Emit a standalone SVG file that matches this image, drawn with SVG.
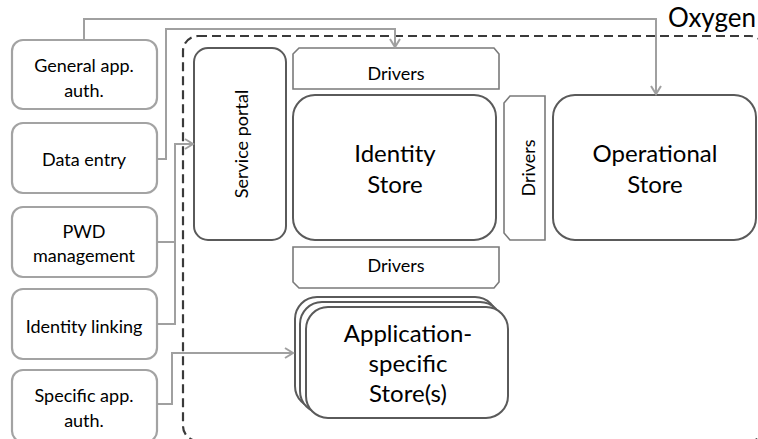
<svg xmlns="http://www.w3.org/2000/svg" width="758" height="439" viewBox="0 0 758 439">
  <style>
    text { font-family: Lato, "Liberation Sans", sans-serif; fill: #000; }
    .side { fill: #fff; stroke: #a3a3a3; stroke-width: 2.2; }
    .core { fill: #fff; stroke: #5a5a5a; stroke-width: 2; }
    .drv { fill: #fff; stroke: #7a7a7a; stroke-width: 1.6; }
    .sm { font-size: 18px; text-anchor: middle; }
    .lg { font-size: 24px; text-anchor: middle; }
    .wire { fill: none; stroke: #a0a0a0; stroke-width: 2; }
    .zone { fill: none; stroke: #3a3a3a; stroke-width: 2.2; stroke-dasharray: 9 5; }
  </style>
  <defs>
    <marker id="chev" markerUnits="userSpaceOnUse" markerWidth="14" markerHeight="14" viewBox="-10 -7 12 14" refX="0" refY="0" orient="auto">
      <path d="M-8,-5 L0,0 L-8,5" fill="none" stroke="#a0a0a0" stroke-width="2"/>
    </marker>
  </defs>
  <rect width="758" height="439" fill="#fff"/>

  <!-- Oxygen boundary -->
  <g id="oxygen">
    <rect class="zone" x="183" y="36" width="582" height="405" rx="15"/>
    <text x="712" y="27" font-size="26" text-anchor="middle">Oxygen</text>
  </g>

  <!-- client functions on the left -->
  <g id="general-auth">
    <rect class="side" x="12" y="40" width="145" height="69" rx="11"/>
    <text class="sm" x="84" y="72">General app.</text>
    <text class="sm" x="84" y="97">auth.</text>
  </g>
  <g id="data-entry">
    <rect class="side" x="12" y="123" width="145" height="70" rx="11"/>
    <text class="sm" x="84" y="166">Data entry</text>
  </g>
  <g id="pwd-management">
    <rect class="side" x="12" y="207" width="145" height="70" rx="11"/>
    <text class="sm" x="84" y="238">PWD</text>
    <text class="sm" x="84" y="262">management</text>
  </g>
  <g id="identity-linking">
    <rect class="side" x="12" y="289" width="145" height="70" rx="11"/>
    <text class="sm" x="84" y="333">Identity linking</text>
  </g>
  <g id="specific-auth">
    <rect class="side" x="12" y="370" width="145" height="72" rx="11"/>
    <text class="sm" x="84" y="402">Specific app.</text>
    <text class="sm" x="84" y="427">auth.</text>
  </g>

  <!-- Oxygen components -->
  <g id="service-portal">
    <rect class="core" x="194" y="48" width="92" height="192" rx="14"/>
    <text class="sm" transform="translate(248,144) rotate(-90)">Service portal</text>
  </g>
  <g id="drivers-top">
    <path class="drv" d="M293,89 V54 L299,48 H494 L499,54 V89 Z"/>
    <text class="sm" x="396" y="80">Drivers</text>
  </g>
  <g id="identity-store">
    <rect class="core" x="293" y="95" width="203" height="145" rx="22"/>
    <text class="lg" x="395" y="162">Identity</text>
    <text class="lg" x="395" y="193">Store</text>
  </g>
  <g id="drivers-side">
    <path class="drv" d="M504,103 L510,96 H545 V240 H510 L504,233 Z"/>
    <text class="sm" transform="translate(535,168) rotate(-90)">Drivers</text>
  </g>
  <g id="operational-store">
    <rect class="core" x="553" y="95" width="203" height="145" rx="22"/>
    <text class="lg" x="655" y="162">Operational</text>
    <text class="lg" x="655" y="193">Store</text>
  </g>
  <g id="drivers-bottom">
    <path class="drv" d="M293,247 H499 V282 L494,288 H299 L293,282 Z"/>
    <text class="sm" x="396" y="272">Drivers</text>
  </g>
  <g id="app-stores">
    <rect class="core" x="295" y="297" width="202" height="111" rx="22"/>
    <rect class="core" x="300" y="302" width="202" height="111" rx="22"/>
    <rect class="core" x="306" y="307" width="202" height="111" rx="22"/>
    <text class="lg" x="408" y="342">Application-</text>
    <text class="lg" x="408" y="372">specific</text>
    <text class="lg" x="408" y="402">Store(s)</text>
  </g>

  <!-- connectors -->
  <g id="connectors">
    <path class="wire" d="M84,40 V19 H656 V94" marker-end="url(#chev)"/>
    <path class="wire" d="M157,159 H166 V29 H395 V47" marker-end="url(#chev)"/>
    <path class="wire" d="M157,242 H175"/>
    <path class="wire" d="M157,324 H175 V144 H193" marker-end="url(#chev)"/>
    <path class="wire" d="M157,404 H172 V353 H293" marker-end="url(#chev)"/>
  </g>
</svg>
